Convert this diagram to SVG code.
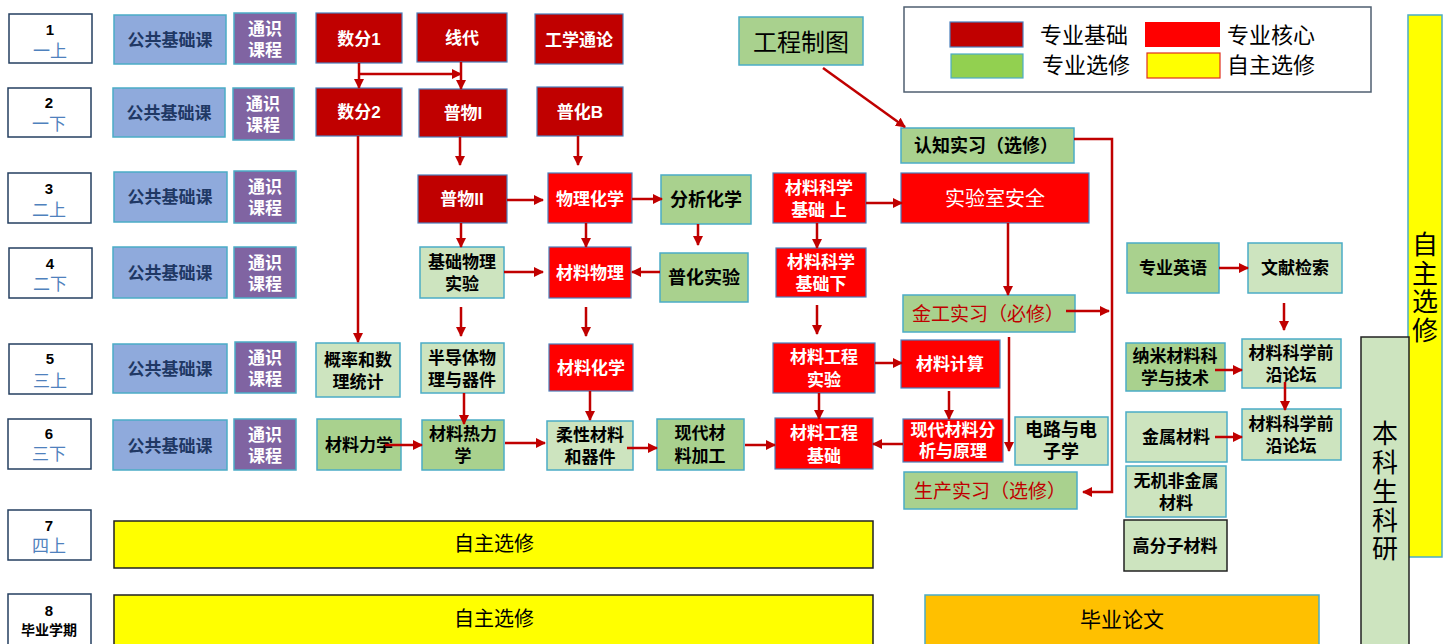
<svg xmlns="http://www.w3.org/2000/svg" width="1456" height="644" viewBox="0 0 1456 644">
<defs>
<style>
text{font-family:"Liberation Sans","Noto Sans CJK SC",sans-serif;text-anchor:middle;dominant-baseline:central}
.sem rect{fill:#fff;stroke:#243F60;stroke-width:1.5}
.num{font-size:15px;font-weight:bold;fill:#000}
.sn{font-size:17px;fill:#4F81BD}
.pub rect{fill:#8FAADC;stroke:#4BACC6;stroke-width:1.5}
.pub text{font-size:17px;font-weight:bold;fill:#1F3864}
.gen rect{fill:#8064A2;stroke:#4BACC6;stroke-width:1.5}
.gen text{font-size:17px;font-weight:bold;fill:#fff}
.base rect{fill:#C00000;stroke:#4A7EBB;stroke-width:1.2}
.core rect{fill:#FF0000;stroke:#4A7EBB;stroke-width:1.2}
.base text,.core text{font-size:17px;font-weight:bold;fill:#fff}
.el rect{fill:#A9D18E;stroke:#4BACC6;stroke-width:1.5}
.el2 rect{fill:#CDE4BF;stroke:#4BACC6;stroke-width:1.5}
.el text,.el2 text{font-size:17px;font-weight:bold;fill:#000}
.self rect{fill:#FFFF00;stroke:#222;stroke-width:1.5}
.self text{font-size:20px;fill:#000}
.lg{font-size:22px;fill:#000;text-anchor:start}
#conn line,#conn polyline{stroke:#C00000;stroke-width:2.5;fill:none;marker-end:url(#ah)}
</style>
<marker id="ah" viewBox="0 0 10 10" refX="9" refY="5" markerWidth="10" markerHeight="10" markerUnits="userSpaceOnUse" orient="auto"><path d="M0,0 L10,5 L0,10 z" fill="#C00000"/></marker>
</defs>
<rect width="1456" height="644" fill="#fff"/>

<!-- semesters -->
<g id="sem1" class="sem"><rect x="9" y="14" width="83" height="49"/><text class="num" x="50" y="29">1</text><text class="sn" x="50" y="51">一上</text></g>
<g id="sem2" class="sem"><rect x="8" y="88" width="83" height="49"/><text class="num" x="49" y="102">2</text><text class="sn" x="49" y="124">一下</text></g>
<g id="sem3" class="sem"><rect x="8" y="173" width="83" height="50"/><text class="num" x="49" y="188">3</text><text class="sn" x="49" y="210">二上</text></g>
<g id="sem4" class="sem"><rect x="9" y="248" width="83" height="50"/><text class="num" x="50" y="263">4</text><text class="sn" x="50" y="284">二下</text></g>
<g id="sem5" class="sem"><rect x="9" y="344" width="83" height="50"/><text class="num" x="50" y="358">5</text><text class="sn" x="50" y="381">三上</text></g>
<g id="sem6" class="sem"><rect x="8" y="419" width="83" height="50"/><text class="num" x="49" y="433">6</text><text class="sn" x="49" y="454">三下</text></g>
<g id="sem7" class="sem"><rect x="8" y="510" width="83" height="50"/><text class="num" x="49" y="525">7</text><text class="sn" x="49" y="546">四上</text></g>
<g id="sem8" class="sem"><rect x="8" y="594" width="83" height="52"/><text class="num" x="49" y="610">8</text><text x="49" y="630" style="font-size:14px;font-weight:bold;fill:#000">毕业学期</text></g>

<!-- public / general -->
<g id="pub1" class="pub"><rect x="114" y="15" width="112" height="49"/><text x="170" y="40">公共基础课</text></g>
<g id="pub2" class="pub"><rect x="113" y="88" width="112" height="49"/><text x="169" y="113">公共基础课</text></g>
<g id="pub3" class="pub"><rect x="114" y="172" width="113" height="50"/><text x="170" y="197">公共基础课</text></g>
<g id="pub4" class="pub"><rect x="113" y="247" width="114" height="51"/><text x="170" y="273">公共基础课</text></g>
<g id="pub5" class="pub"><rect x="113" y="344" width="114" height="49"/><text x="170" y="369">公共基础课</text></g>
<g id="pub6" class="pub"><rect x="113" y="420" width="114" height="50"/><text x="170" y="446">公共基础课</text></g>

<g id="gen1" class="gen"><rect x="234" y="13" width="62" height="51"/><text x="265" y="29">通识</text><text x="265" y="50">课程</text></g>
<g id="gen2" class="gen"><rect x="233" y="88" width="61" height="52"/><text x="263" y="104">通识</text><text x="263" y="125">课程</text></g>
<g id="gen3" class="gen"><rect x="234" y="171" width="62" height="52"/><text x="265" y="187">通识</text><text x="265" y="208">课程</text></g>
<g id="gen4" class="gen"><rect x="234" y="247" width="62" height="51"/><text x="265" y="263">通识</text><text x="265" y="284">课程</text></g>
<g id="gen5" class="gen"><rect x="235" y="342" width="61" height="51"/><text x="265" y="358">通识</text><text x="265" y="379">课程</text></g>
<g id="gen6" class="gen"><rect x="234" y="419" width="62" height="51"/><text x="265" y="435">通识</text><text x="265" y="456">课程</text></g>

<!-- courses -->
<g id="shufen1" class="base"><rect x="316" y="13" width="86" height="50"/><text x="359" y="39">数分1</text></g>
<g id="xiandai" class="base"><rect x="417" y="13" width="90" height="49"/><text x="462" y="38">线代</text></g>
<g id="gongxue" class="base"><rect x="535" y="14" width="88" height="50"/><text x="579" y="40">工学通论</text></g>
<g id="zhitu" class="el"><rect x="739" y="17" width="124" height="48"/><text x="801" y="42" style="font-size:24px;font-weight:normal">工程制图</text></g>
<g id="shufen2" class="base"><rect x="316" y="88" width="86" height="48"/><text x="359" y="112">数分2</text></g>
<g id="puwu1" class="base"><rect x="419" y="89" width="88" height="48"/><text x="463" y="113">普物I</text></g>
<g id="puhuaB" class="base"><rect x="537" y="87" width="86" height="49"/><text x="580" y="112">普化B</text></g>
<g id="renzhi" class="el"><rect x="901" y="128" width="173" height="35"/><text x="986" y="146" style="font-size:18px">认知实习（选修）</text></g>
<g id="puwu2" class="base"><rect x="418" y="175" width="89" height="48"/><text x="462" y="199">普物II</text></g>
<g id="wuhua" class="core"><rect x="548" y="173" width="84" height="50"/><text x="590" y="199">物理化学</text></g>
<g id="fenxi" class="el"><rect x="661" y="175" width="90" height="49"/><text x="706" y="200" style="font-size:18px">分析化学</text></g>
<g id="kxjc1" class="core"><rect x="773" y="173" width="93" height="50"/><text x="819" y="188">材料科学</text><text x="819" y="210">基础 上</text></g>
<g id="anquan" class="core"><rect x="901" y="173" width="188" height="50"/><text x="995" y="199" style="font-size:20px;font-weight:normal">实验室安全</text></g>
<g id="jcwlsy" class="el2"><rect x="420" y="247" width="84" height="51"/><text x="462" y="262">基础物理</text><text x="462" y="284">实验</text></g>
<g id="clwl" class="core"><rect x="549" y="247" width="82" height="51"/><text x="590" y="273">材料物理</text></g>
<g id="puhuasy" class="el"><rect x="660" y="253" width="88" height="49"/><text x="704" y="278" style="font-size:18px">普化实验</text></g>
<g id="kxjc2" class="core"><rect x="776" y="248" width="90" height="49"/><text x="821" y="262">材料科学</text><text x="821" y="284">基础下</text></g>
<g id="yingyu" class="el"><rect x="1127" y="243" width="92" height="50"/><text x="1173" y="268">专业英语</text></g>
<g id="wenxian" class="el2"><rect x="1248" y="243" width="94" height="50"/><text x="1295" y="268">文献检索</text></g>
<g id="jingong" class="el"><rect x="903" y="295" width="172" height="37"/><text x="988" y="314" style="font-size:19px;font-weight:normal;fill:#C00000">金工实习（必修）</text></g>
<g id="gailv" class="el2"><rect x="316" y="343" width="84" height="54"/><text x="358" y="360">概率和数</text><text x="358" y="382">理统计</text></g>
<g id="bandaoti" class="el2"><rect x="421" y="343" width="83" height="50"/><text x="462" y="358">半导体物</text><text x="462" y="380">理与器件</text></g>
<g id="clhx" class="core"><rect x="549" y="344" width="84" height="47"/><text x="591" y="368">材料化学</text></g>
<g id="gcsy" class="core"><rect x="773" y="343" width="102" height="50"/><text x="824" y="357">材料工程</text><text x="824" y="380">实验</text></g>
<g id="jisuan" class="core"><rect x="901" y="340" width="99" height="48"/><text x="950" y="364">材料计算</text></g>
<g id="nami" class="el"><rect x="1126" y="343" width="99" height="48"/><text x="1175" y="356">纳米材料科</text><text x="1175" y="378">学与技术</text></g>
<g id="luntan1" class="el2"><rect x="1242" y="339" width="99" height="49"/><text x="1291" y="353">材料科学前</text><text x="1291" y="375">沿论坛</text></g>
<g id="lixue" class="el"><rect x="317" y="419" width="84" height="51"/><text x="359" y="445">材料力学</text></g>
<g id="relixue" class="el"><rect x="422" y="420" width="82" height="50"/><text x="463" y="434">材料热力</text><text x="463" y="456">学</text></g>
<g id="rouxing" class="el2"><rect x="547" y="421" width="86" height="49"/><text x="590" y="435">柔性材料</text><text x="590" y="457">和器件</text></g>
<g id="jiagong" class="el"><rect x="657" y="419" width="87" height="51"/><text x="700" y="433">现代材</text><text x="700" y="456">料加工</text></g>
<g id="gcjc" class="core"><rect x="775" y="418" width="98" height="51"/><text x="824" y="433">材料工程</text><text x="824" y="456">基础</text></g>
<g id="fenxiyl" class="core"><rect x="903" y="419" width="100" height="43"/><text x="953" y="430">现代材料分</text><text x="953" y="451">析与原理</text></g>
<g id="dianlu" class="el2"><rect x="1015" y="417" width="93" height="48"/><text x="1061" y="430" style="font-size:18px">电路与电</text><text x="1061" y="452" style="font-size:18px">子学</text></g>
<g id="jinshu" class="el2"><rect x="1126" y="412" width="101" height="50"/><text x="1176" y="437">金属材料</text></g>
<g id="luntan2" class="el2"><rect x="1242" y="409" width="99" height="51"/><text x="1291" y="424">材料科学前</text><text x="1291" y="446">沿论坛</text></g>
<g id="shengchan" class="el"><rect x="904" y="472" width="173" height="37"/><text x="990" y="491" style="font-size:19px;font-weight:normal;fill:#C00000">生产实习（选修）</text></g>
<g id="wuji" class="el2"><rect x="1126" y="466" width="100" height="51"/><text x="1176" y="481">无机非金属</text><text x="1176" y="503">材料</text></g>
<g id="gaofenzi" class="el2"><rect x="1124" y="520" width="103" height="51" style="stroke:#222"/><text x="1175" y="546">高分子材料</text></g>

<g id="zizhu7" class="self"><rect x="114" y="521" width="759" height="47"/><text x="494" y="544">自主选修</text></g>
<g id="zizhu8" class="self"><rect x="114" y="595" width="759" height="52"/><text x="494" y="619">自主选修</text></g>
<g id="lunwen"><rect x="925" y="595" width="394" height="52" fill="#FFC000" stroke="#4BACC6" stroke-width="1.5"/><text x="1122" y="619" style="font-size:21px;fill:#000">毕业论文</text></g>

<g id="zizhuV"><rect x="1408" y="15" width="34" height="542" fill="#FFFF00" stroke="#4BACC6" stroke-width="1.5"/><text style="font-size:26px;fill:#000"><tspan x="1425" y="245">自</tspan><tspan x="1425" y="274">主</tspan><tspan x="1425" y="302">选</tspan><tspan x="1425" y="331">修</tspan></text></g>
<g id="keyan"><rect x="1361" y="337" width="48" height="310" fill="#CDE4BF" stroke="#222" stroke-width="1.5"/><text style="font-size:26px;fill:#000"><tspan x="1385" y="434">本</tspan><tspan x="1385" y="463">科</tspan><tspan x="1385" y="492">生</tspan><tspan x="1385" y="521">科</tspan><tspan x="1385" y="549">研</tspan></text></g>

<!-- legend -->
<g id="legend">
<rect x="904" y="7" width="467" height="85" fill="#fff" stroke="#4F5F70" stroke-width="1.5"/>
<rect x="950" y="22" width="73" height="25" fill="#C00000" stroke="#4A7EBB" stroke-width="1.2"/>
<text class="lg" x="1040" y="35">专业基础</text>
<rect x="1145" y="22" width="75" height="25" fill="#FF0000"/>
<text class="lg" x="1227" y="35">专业核心</text>
<rect x="951" y="54" width="72" height="24" fill="#92D050" stroke="#4BACC6" stroke-width="1.2"/>
<text class="lg" x="1042" y="65">专业选修</text>
<rect x="1147" y="53" width="73" height="25" fill="#FFFF00" stroke="#E0301E" stroke-width="1.2"/>
<text class="lg" x="1227" y="65">自主选修</text>
</g>

<g id="conn">
<line x1="359" y1="63" x2="359" y2="88"/>
<line x1="359" y1="74" x2="461" y2="74"/>
<line x1="461" y1="62" x2="461" y2="89"/>
<line x1="358" y1="136" x2="358" y2="342"/>
<line x1="460" y1="137" x2="460" y2="165"/>
<line x1="578" y1="136" x2="578" y2="165"/>
<line x1="507" y1="200" x2="543" y2="200"/>
<line x1="632" y1="199" x2="662" y2="199"/>
<line x1="866" y1="203" x2="902" y2="203"/>
<line x1="823" y1="68" x2="905" y2="127"/>
<line x1="461" y1="223" x2="461" y2="247"/>
<line x1="586" y1="223" x2="586" y2="247"/>
<line x1="698" y1="224" x2="698" y2="245"/>
<line x1="817" y1="223" x2="817" y2="248"/>
<line x1="1008" y1="223" x2="1008" y2="295"/>
<line x1="504" y1="272" x2="543" y2="272"/>
<line x1="660" y1="272" x2="632" y2="272"/>
<line x1="461" y1="307" x2="461" y2="336"/>
<line x1="586" y1="307" x2="586" y2="336"/>
<line x1="817" y1="305" x2="817" y2="334"/>
<line x1="1066" y1="311" x2="1109" y2="311"/>
<polyline points="1074,139 1112,139 1112,492 1083,492"/>
<line x1="1009" y1="337" x2="1009" y2="451"/>
<line x1="875" y1="363" x2="902" y2="363"/>
<line x1="949" y1="391" x2="949" y2="419"/>
<line x1="819" y1="393" x2="819" y2="419"/>
<line x1="903" y1="444" x2="873" y2="444"/>
<line x1="464" y1="393" x2="464" y2="424"/>
<line x1="590" y1="391" x2="590" y2="420"/>
<line x1="385" y1="445" x2="422" y2="445"/>
<line x1="505" y1="443" x2="545" y2="443"/>
<line x1="627" y1="448" x2="657" y2="448"/>
<line x1="745" y1="445" x2="775" y2="445"/>
<line x1="1219" y1="268" x2="1248" y2="268"/>
<line x1="1284" y1="303" x2="1284" y2="330"/>
<line x1="1215" y1="370" x2="1242" y2="370"/>
<line x1="1285" y1="382" x2="1285" y2="410"/>
<line x1="1215" y1="437" x2="1242" y2="437"/>
</g>
</svg>
